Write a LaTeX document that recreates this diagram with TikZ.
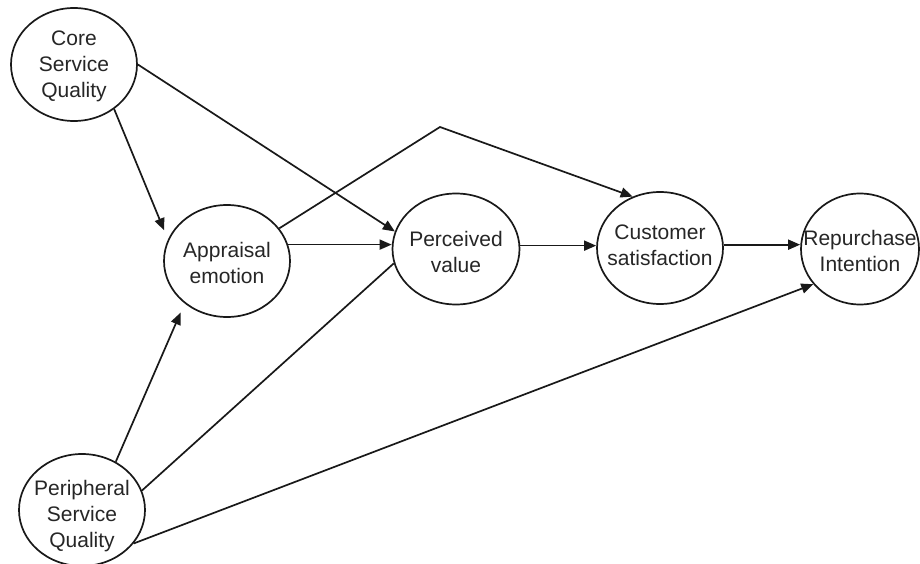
\documentclass[tikz,border=0pt]{standalone}
\usepackage{fontspec}
\setmainfont{Liberation Sans}
\usetikzlibrary{shapes.geometric,arrows.meta}
\begin{document}
\begin{tikzpicture}[x=1pt,y=-1pt,
  ell/.style={ellipse,draw=black!90,line width=1.7pt,inner sep=0pt},
  lbl/.style={align=center,inner sep=0pt,font=\fontsize{21}{26}\selectfont,text=black!85},
  arr/.style={draw=black!90,line width=1.7pt,-{Triangle[length=12pt,width=10pt]}},
  ln/.style={draw=black!90,line width=1.7pt}]
\useasboundingbox (0,0) rectangle (920,564);
\fill[white] (0,0) rectangle (920,564);
% ellipses
\node[ell,minimum width=126pt,minimum height=113pt] (core) at (74,64.5) {};
\node[ell,minimum width=126pt,minimum height=112pt] (appr) at (227,261) {};
\node[ell,minimum width=127pt,minimum height=111pt] (perc) at (456,249) {};
\node[ell,minimum width=126pt,minimum height=112pt] (cust) at (660,248) {};
\node[ell,minimum width=118pt,minimum height=111pt] (rep) at (860,249) {};
\node[ell,minimum width=126pt,minimum height=112pt] (peri) at (82,510) {};
% labels
\node[lbl] (coreT) at ([yshift=-2pt]core.center) {Core\\Service\\Quality};
\node[lbl] (apprT) at ([yshift=-2pt]appr.center) {Appraisal\\emotion};
\node[lbl] (percT) at ([yshift=-3pt]perc.center) {Perceived\\value};
\node[lbl] (custT) at ([yshift=3pt]cust.center) {Customer\\satisfaction};
\node[lbl] (repT) at ([yshift=-2pt]rep.center) {Repurchase\\Intention};
\node[lbl] (periT) at ([yshift=-6pt]peri.center) {Peripheral\\Service\\Quality};
% bend point
\coordinate (bend) at (440,127);
% connectors
\draw[arr,shorten >=10pt] (core.-48) -- (appr.160);
\draw[arr] (core.east) -- (perc.164);
\draw[arr] (appr.15) -- (perc.west |- appr.15);
\draw[arr] (appr.32) -- (bend) -- (cust.118);
\draw[arr] (perc.3) -- (cust.west |- perc.3);
\draw[arr] (cust.3) -- (rep.west |- cust.3);
\draw[arr,shorten >=10pt] (peri.55) -- (appr.-135);
\draw[ln] (peri.18) -- (perc.-167);
\draw[arr] (peri.-33) -- (rep.-143);
\end{tikzpicture}
\end{document}
